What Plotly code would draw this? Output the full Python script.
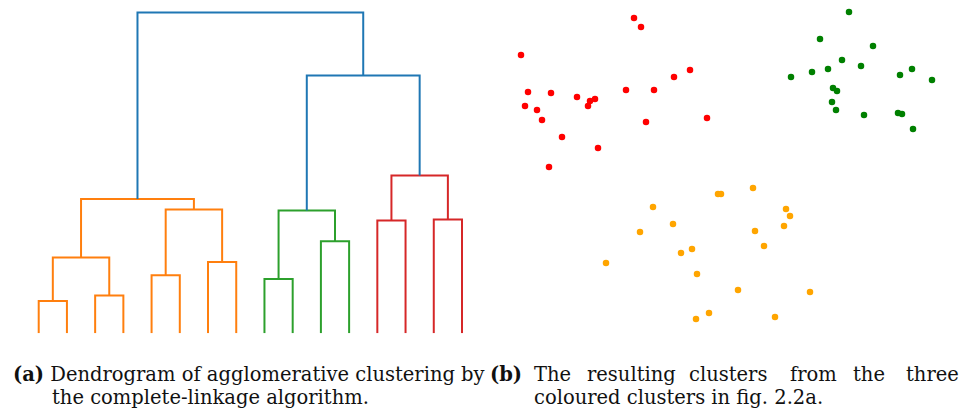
import plotly.graph_objects as go

# ---- Dendrogram (complete linkage, 16 leaves) ----
# Each merge joins two node ids (leaves 0-15, new clusters numbered from 16 upwards).
link_left = [0, 2, 16, 4, 6, 19, 18, 8, 10, 23, 12, 14, 26, 25, 22]
link_right = [1, 3, 17, 5, 7, 20, 21, 9, 11, 24, 13, 15, 27, 28, 29]
link_height = [1.01, 1.18, 2.36, 1.81, 2.22, 3.86, 4.19,
               1.69, 2.87, 3.83, 3.52, 3.55, 4.92, 8.04, 10.0]
link_color = ["#ff7f0e"] * 7 + ["#2ca02c"] * 3 + ["#d62728"] * 3 + ["#1f77b4"] * 2
n_leaves = 16

# ---- Resulting clusters ----
red_x = [15.4, 16.1, 4.1, 21.0, 19.4, 4.8, 7.1, 9.7, 14.6, 17.4, 11.5,
         11.0, 10.8, 4.5, 5.7, 6.2, 16.6, 22.7, 8.2, 11.8, 6.9]
red_y = [31.7, 30.8, 28.0, 26.5, 25.8, 24.3, 24.2, 23.8, 24.5, 24.5, 23.6,
         23.4, 22.9, 22.9, 22.5, 21.5, 21.3, 21.7, 19.8, 18.7, 16.8]
green_x = [36.9, 34.0, 39.3, 36.2, 38.1, 34.8, 33.2, 31.1, 43.2, 42.0,
           45.2, 35.3, 35.7, 35.2, 35.6, 38.4, 41.8, 42.2, 43.3]
green_y = [32.3, 29.6, 28.9, 27.5, 26.9, 26.6, 26.3, 25.8, 26.6, 26.0,
           25.5, 24.7, 24.4, 23.3, 22.5, 22.0, 22.2, 22.1, 20.6]
orange_x = [27.3, 23.8, 24.1, 17.3, 30.6, 31.0, 19.3, 16.0, 30.4, 27.5,
            28.4, 20.1, 21.2, 12.6, 21.7, 25.8, 33.0, 22.9, 21.6, 29.5]
orange_y = [14.7, 14.1, 14.1, 12.8, 12.6, 11.9, 11.1, 10.3, 10.9, 10.4,
            8.9, 8.2, 8.6, 7.2, 6.1, 4.5, 4.3, 2.2, 1.6, 1.8]

W, H = 963, 415
fig = go.Figure()

# node positions: leaves spaced 10 apart starting at 5, clusters centred over children
node_x = {i: 5 + 10 * i for i in range(n_leaves)}
node_h = {i: 0.0 for i in range(n_leaves)}
for k, (a, b, h, c) in enumerate(zip(link_left, link_right, link_height, link_color)):
    xa, xb = node_x[a], node_x[b]
    fig.add_trace(go.Scatter(
        x=[xa, xa, xb, xb], y=[node_h[a], h, h, node_h[b]],
        mode="lines", line=dict(color=c, width=2),
        xaxis="x", yaxis="y", showlegend=False, hoverinfo="skip"))
    nid = n_leaves + k
    node_x[nid] = (xa + xb) / 2
    node_h[nid] = h

for xs, ys, col in [(red_x, red_y, "#ff0000"),
                    (green_x, green_y, "#008000"),
                    (orange_x, orange_y, "#ffa500")]:
    fig.add_trace(go.Scatter(
        x=xs, y=ys, mode="markers",
        marker=dict(color=col, size=6.5, line=dict(width=0)),
        xaxis="x2", yaxis="y2", showlegend=False))

hidden = dict(showgrid=False, zeroline=False, showticklabels=False,
              showline=False, ticks="", fixedrange=True)

fig.update_layout(
    width=W, height=H,
    margin=dict(l=0, r=0, t=0, b=0),
    paper_bgcolor="white", plot_bgcolor="white",
    xaxis=dict(domain=[24.6 / W, 476.1 / W], range=[0, 160], **hidden),
    yaxis=dict(domain=[(H - 333.3) / H, 1], range=[0, 10.393], **hidden),
    xaxis2=dict(domain=[490 / W, 1], range=[1, 48.3], anchor="y2", **hidden),
    yaxis2=dict(domain=[(H - 340) / H, 1], range=[-0.5, 33.5], anchor="x2", **hidden),
)

cap_font = dict(family="DejaVu Serif", size=19.5, color="#111111")
y1 = 1 - 374 / H
y2 = 1 - 397.5 / H


def caption(text, px, py, anchor="left"):
    fig.add_annotation(text=text, x=px / W, y=py, xref="paper", yref="paper",
                       xanchor=anchor, yanchor="middle", showarrow=False,
                       font=cap_font, borderpad=0)


caption("<b>(a)</b> Dendrogram of agglomerative clustering by", 12, y1)
caption("the complete-linkage algorithm.", 51, y2)
caption("<b>(b)</b>", 489, y1)
for word, px in [("The", 533), ("resulting", 586), ("clusters", 688),
                 ("from", 789), ("the", 852)]:
    caption(word, px, y1)
caption("three", 960, y1, anchor="right")
caption("coloured clusters in fig. 2.2a.", 533, y2)

fig.write_html("out.html")
